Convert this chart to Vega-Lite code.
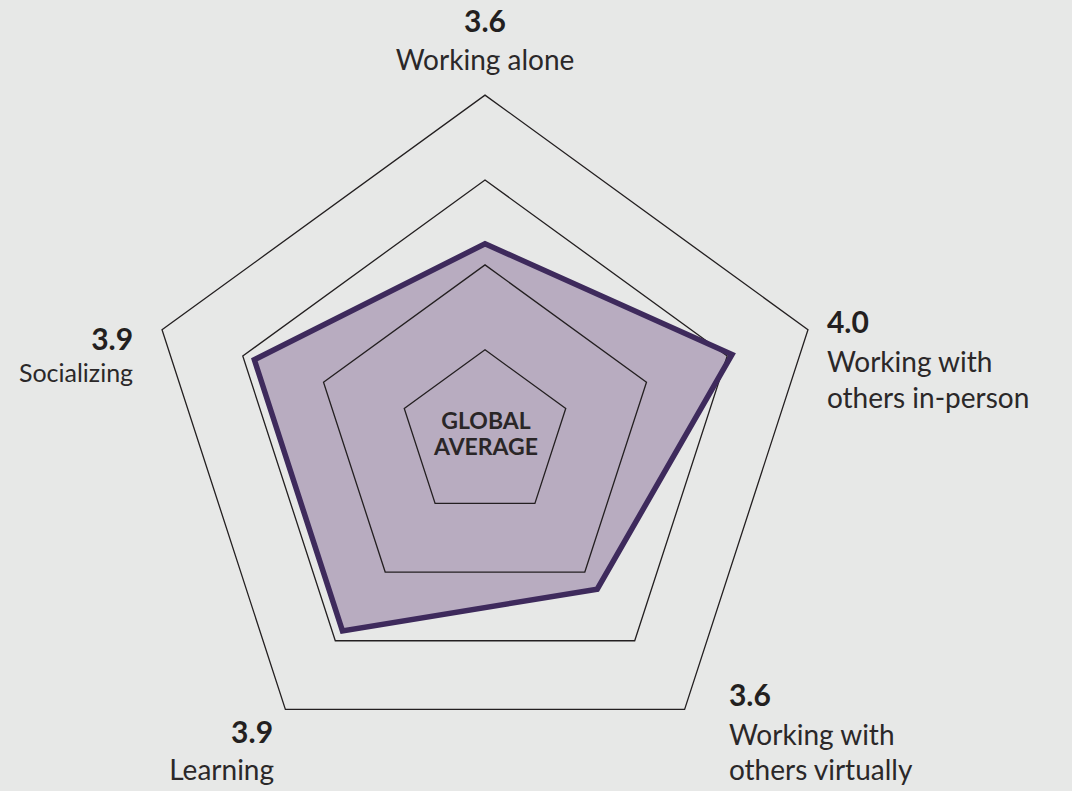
{
  "$schema": "https://vega.github.io/schema/vega-lite/v6.json",
  "width": 1072,
  "height": 791,
  "padding": 0,
  "autosize": {"type": "fit", "contains": "padding"},
  "background": "#e7e8e7",
  "config": {"view": {"stroke": null}},
  "datasets": {
    "scores": [
      {"axis": "Working alone", "lines": ["Working alone"], "value": 3.6, "idx": 0},
      {"axis": "Working with others in-person", "lines": ["Working with", "others in-person"], "value": 4.0, "idx": 1},
      {"axis": "Working with others virtually", "lines": ["Working with", "others virtually"], "value": 3.6, "idx": 2},
      {"axis": "Learning", "lines": ["Learning"], "value": 3.9, "idx": 3},
      {"axis": "Socializing", "lines": ["Socializing"], "value": 3.9, "idx": 4}
    ],
    "rings": [
      {"ring": 1, "idx": 0}, {"ring": 1, "idx": 1}, {"ring": 1, "idx": 2}, {"ring": 1, "idx": 3}, {"ring": 1, "idx": 4},
      {"ring": 2, "idx": 0}, {"ring": 2, "idx": 1}, {"ring": 2, "idx": 2}, {"ring": 2, "idx": 3}, {"ring": 2, "idx": 4},
      {"ring": 3, "idx": 0}, {"ring": 3, "idx": 1}, {"ring": 3, "idx": 2}, {"ring": 3, "idx": 3}, {"ring": 3, "idx": 4},
      {"ring": 4, "idx": 0}, {"ring": 4, "idx": 1}, {"ring": 4, "idx": 2}, {"ring": 4, "idx": 3}, {"ring": 4, "idx": 4}
    ],
    "center": [{"word": "GLOBAL", "line": 0}, {"word": "AVERAGE", "line": 1}]
  },
  "encoding": {
    "x": {"field": "x", "type": "quantitative", "scale": {"domain": [-485, 587], "nice": false, "zero": false}, "axis": null},
    "y": {"field": "y", "type": "quantitative", "scale": {"domain": [-356.3, 434.7], "nice": false, "zero": false}, "axis": null}
  },
  "layer": [
    {
      "data": {"name": "scores"},
      "transform": [
        {"calculate": "(datum.value - 2.49) * 172", "as": "r"},
        {"calculate": "datum.r * sin(datum.idx * 2 * PI / 5)", "as": "x"},
        {"calculate": "datum.r * cos(datum.idx * 2 * PI / 5)", "as": "y"}
      ],
      "mark": {"type": "line", "interpolate": "linear-closed", "fill": "#b8acc0", "stroke": "#b8acc0", "strokeWidth": 0},
      "encoding": {"order": {"field": "idx", "type": "quantitative"}}
    },
    {
      "data": {"name": "rings"},
      "transform": [
        {"calculate": "datum.ring * 84.9", "as": "r"},
        {"calculate": "datum.r * sin(datum.idx * 2 * PI / 5)", "as": "x"},
        {"calculate": "datum.r * cos(datum.idx * 2 * PI / 5)", "as": "y"}
      ],
      "mark": {"type": "line", "interpolate": "linear-closed", "stroke": "#231f20", "strokeWidth": 1.3},
      "encoding": {"order": {"field": "idx", "type": "quantitative"}, "detail": {"field": "ring", "type": "nominal"}}
    },
    {
      "data": {"name": "scores"},
      "transform": [
        {"calculate": "(datum.value - 2.49) * 172", "as": "r"},
        {"calculate": "datum.r * sin(datum.idx * 2 * PI / 5)", "as": "x"},
        {"calculate": "datum.r * cos(datum.idx * 2 * PI / 5)", "as": "y"}
      ],
      "mark": {"type": "line", "interpolate": "linear-closed", "stroke": "#3e2a5c", "strokeWidth": 5.5, "strokeJoin": "miter"},
      "encoding": {"order": {"field": "idx", "type": "quantitative"}}
    },
    {
      "data": {"name": "center"},
      "transform": [{"calculate": "0", "as": "x"}, {"calculate": "0", "as": "y"}],
      "layer": [
        {"transform": [{"filter": "datum.line == 0"}], "mark": {"type": "text", "font": "Lato", "fontWeight": "bold", "fontSize": 23, "align": "center", "baseline": "alphabetic", "dx": 1, "dy": -5.7, "color": "#2a2627"}, "encoding": {"text": {"field": "word"}}},
        {"transform": [{"filter": "datum.line == 1"}], "mark": {"type": "text", "font": "Lato", "fontWeight": "bold", "fontSize": 23, "align": "center", "baseline": "alphabetic", "dx": 1, "dy": 20.3, "color": "#2a2627"}, "encoding": {"text": {"field": "word"}}}
      ]
    },
    {
      "data": {"name": "scores"},
      "transform": [
        {"calculate": "339.5 * sin(datum.idx * 2 * PI / 5)", "as": "x"},
        {"calculate": "339.5 * cos(datum.idx * 2 * PI / 5)", "as": "y"}
      ],
      "layer": [
        {"transform": [{"filter": "datum.idx == 0"}], "mark": {"type": "text", "font": "Lato", "fontWeight": "bold", "fontSize": 30, "align": "center", "baseline": "alphabetic", "dx": 0, "dy": -63.2, "color": "#231f20"}, "encoding": {"text": {"field": "value", "type": "quantitative", "format": ".1f"}}},
        {"transform": [{"filter": "datum.idx == 0"}], "mark": {"type": "text", "font": "Lato", "fontSize": 28, "align": "center", "baseline": "alphabetic", "dx": 0, "dy": -25.2, "lineHeight": 35, "color": "#2b2829"}, "encoding": {"text": {"field": "lines"}}},
        {"transform": [{"filter": "datum.idx == 1"}], "mark": {"type": "text", "font": "Lato", "fontWeight": "bold", "fontSize": 30, "align": "left", "baseline": "alphabetic", "dx": 19, "dy": 3.2, "color": "#231f20"}, "encoding": {"text": {"field": "value", "type": "quantitative", "format": ".1f"}}},
        {"transform": [{"filter": "datum.idx == 1"}], "mark": {"type": "text", "font": "Lato", "fontSize": 28, "align": "left", "baseline": "alphabetic", "dx": 19, "dy": 42.2, "lineHeight": 36, "color": "#2b2829"}, "encoding": {"text": {"field": "lines"}}},
        {"transform": [{"filter": "datum.idx == 2"}], "mark": {"type": "text", "font": "Lato", "fontWeight": "bold", "fontSize": 30, "align": "left", "baseline": "alphabetic", "dx": 44.4, "dy": -3.4, "color": "#231f20"}, "encoding": {"text": {"field": "value", "type": "quantitative", "format": ".1f"}}},
        {"transform": [{"filter": "datum.idx == 2"}], "mark": {"type": "text", "font": "Lato", "fontSize": 28, "align": "left", "baseline": "alphabetic", "dx": 44.4, "dy": 35.6, "lineHeight": 35, "color": "#2b2829"}, "encoding": {"text": {"field": "lines"}}},
        {"transform": [{"filter": "datum.idx == 3"}], "mark": {"type": "text", "font": "Lato", "fontWeight": "bold", "fontSize": 30, "align": "right", "baseline": "alphabetic", "dx": -12.4, "dy": 33.6, "color": "#231f20"}, "encoding": {"text": {"field": "value", "type": "quantitative", "format": ".1f"}}},
        {"transform": [{"filter": "datum.idx == 3"}], "mark": {"type": "text", "font": "Lato", "fontSize": 28, "align": "right", "baseline": "alphabetic", "dx": -11.4, "dy": 70.6, "color": "#2b2829"}, "encoding": {"text": {"field": "lines"}}},
        {"transform": [{"filter": "datum.idx == 4"}], "mark": {"type": "text", "font": "Lato", "fontWeight": "bold", "fontSize": 30, "align": "right", "baseline": "alphabetic", "dx": -29, "dy": 20.2, "color": "#231f20"}, "encoding": {"text": {"field": "value", "type": "quantitative", "format": ".1f"}}},
        {"transform": [{"filter": "datum.idx == 4"}], "mark": {"type": "text", "font": "Lato", "fontSize": 25, "align": "right", "baseline": "alphabetic", "dx": -29, "dy": 52.2, "color": "#2b2829"}, "encoding": {"text": {"field": "lines"}}}
      ]
    }
  ]
}
